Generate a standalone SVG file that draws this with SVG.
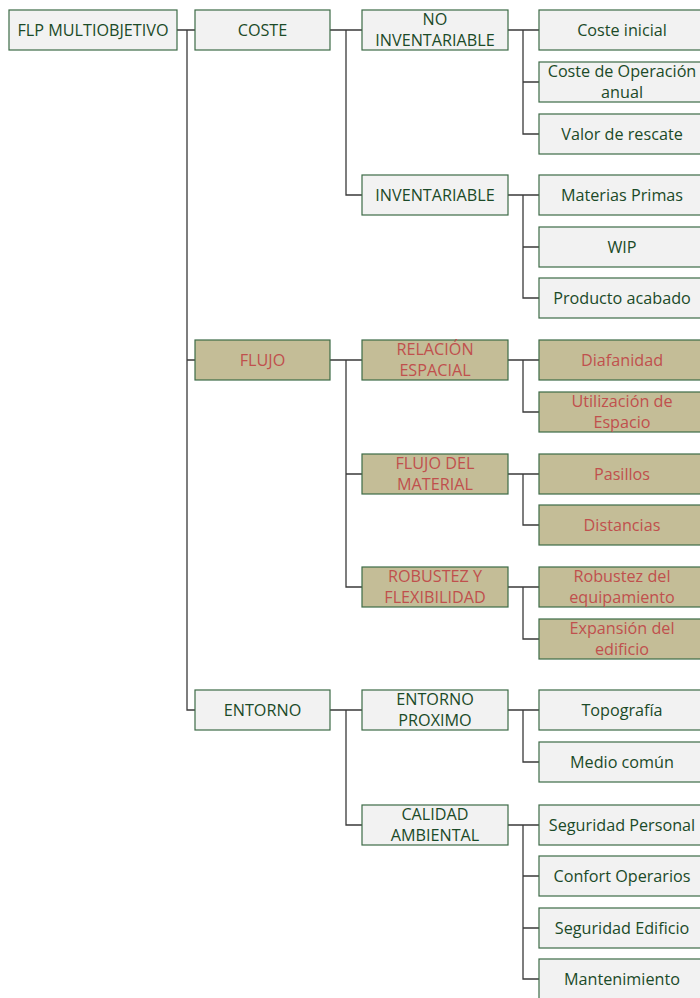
<svg xmlns="http://www.w3.org/2000/svg" width="700" height="998" viewBox="0 0 700 998">
  <style>
    .box rect { fill: #F2F2F2; stroke: #3D6B47; stroke-width: 1.2; }
    .box text { fill: #1B4A28; font-family: "Open Sans", "Noto Sans", "Liberation Sans", sans-serif; font-size: 16.2px; text-anchor: middle; }
    .alt rect { fill: #C4BD97; stroke: #3D6B47; stroke-width: 1.2; }
    .alt text { fill: #C0504D; }
    .links path { fill: none; stroke: #3A3A3A; stroke-width: 1.3; }
  </style>
  <rect width="700" height="998" fill="#FFFFFF"/>

  <!-- connectors -->
  <g class="links">
    <!-- root to level 1 -->
    <path d="M177 30 H195 M187 30 V710 H195 M187 360 H195"/>
    <!-- COSTE -->
    <path d="M330 30 H362 M346 30 V195 H362"/>
    <path d="M508 30 H539 M523 30 V134 H539 M523 82 H539"/>
    <path d="M508 195 H539 M523 195 V298 H539 M523 247 H539"/>
    <!-- FLUJO -->
    <path d="M330 360 H362 M346 360 V587 H362 M346 474 H362"/>
    <path d="M508 360 H539 M523 360 V412 H539"/>
    <path d="M508 474 H539 M523 474 V525 H539"/>
    <path d="M508 587 H539 M523 587 V639 H539"/>
    <!-- ENTORNO -->
    <path d="M330 710 H362 M346 710 V825 H362"/>
    <path d="M508 710 H539 M523 710 V762 H539"/>
    <path d="M508 825 H539 M523 825 V979 H539 M523 876 H539 M523 928 H539"/>
  </g>

  <!-- root -->
  <g id="flp" class="box"><rect x="9" y="10" width="168" height="40"/><text x="93" y="35.5">FLP MULTIOBJETIVO</text></g>

  <!-- level 1 -->
  <g id="coste" class="box"><rect x="195" y="10" width="135" height="40"/><text x="262.5" y="35.5">COSTE</text></g>
  <g id="flujo" class="box alt"><rect x="195" y="340" width="135" height="40"/><text x="262.5" y="365.5">FLUJO</text></g>
  <g id="entorno" class="box"><rect x="195" y="690" width="135" height="40"/><text x="262.5" y="715.5">ENTORNO</text></g>

  <!-- level 2 -->
  <g id="no-inventariable" class="box"><rect x="362" y="10" width="146" height="40"/><text x="435" y="25">NO</text><text x="435" y="46">INVENTARIABLE</text></g>
  <g id="inventariable" class="box"><rect x="362" y="175" width="146" height="40"/><text x="435" y="200.5">INVENTARIABLE</text></g>
  <g id="relacion-espacial" class="box alt"><rect x="362" y="340" width="146" height="40"/><text x="435" y="355">RELACIÓN</text><text x="435" y="376">ESPACIAL</text></g>
  <g id="flujo-material" class="box alt"><rect x="362" y="454" width="146" height="40"/><text x="435" y="469">FLUJO DEL</text><text x="435" y="490">MATERIAL</text></g>
  <g id="robustez-flexibilidad" class="box alt"><rect x="362" y="567" width="146" height="40"/><text x="435" y="582">ROBUSTEZ Y</text><text x="435" y="603">FLEXIBILIDAD</text></g>
  <g id="entorno-proximo" class="box"><rect x="362" y="690" width="146" height="40"/><text x="435" y="705">ENTORNO</text><text x="435" y="726">PROXIMO</text></g>
  <g id="calidad-ambiental" class="box"><rect x="362" y="805" width="146" height="40"/><text x="435" y="820">CALIDAD</text><text x="435" y="841">AMBIENTAL</text></g>

  <!-- level 3 -->
  <g id="coste-inicial" class="box"><rect x="539" y="10" width="170" height="40"/><text x="622" y="35.5">Coste inicial</text></g>
  <g id="coste-operacion" class="box"><rect x="539" y="62" width="170" height="40"/><text x="622" y="77">Coste de Operación</text><text x="622" y="98">anual</text></g>
  <g id="valor-rescate" class="box"><rect x="539" y="114" width="170" height="40"/><text x="622" y="139.5">Valor de rescate</text></g>
  <g id="materias-primas" class="box"><rect x="539" y="175" width="170" height="40"/><text x="622" y="200.5">Materias Primas</text></g>
  <g id="wip" class="box"><rect x="539" y="227" width="170" height="40"/><text x="622" y="252.5">WIP</text></g>
  <g id="producto-acabado" class="box"><rect x="539" y="278" width="170" height="40"/><text x="622" y="303.5">Producto acabado</text></g>
  <g id="diafanidad" class="box alt"><rect x="539" y="340" width="170" height="40"/><text x="622" y="365.5">Diafanidad</text></g>
  <g id="utilizacion-espacio" class="box alt"><rect x="539" y="392" width="170" height="40"/><text x="622" y="407">Utilización de</text><text x="622" y="428">Espacio</text></g>
  <g id="pasillos" class="box alt"><rect x="539" y="454" width="170" height="40"/><text x="622" y="479.5">Pasillos</text></g>
  <g id="distancias" class="box alt"><rect x="539" y="505" width="170" height="40"/><text x="622" y="530.5">Distancias</text></g>
  <g id="robustez-equipamiento" class="box alt"><rect x="539" y="567" width="170" height="40"/><text x="622" y="582">Robustez del</text><text x="622" y="603">equipamiento</text></g>
  <g id="expansion-edificio" class="box alt"><rect x="539" y="619" width="170" height="40"/><text x="622" y="634">Expansión del</text><text x="622" y="655">edificio</text></g>
  <g id="topografia" class="box"><rect x="539" y="690" width="170" height="40"/><text x="622" y="715.5">Topografía</text></g>
  <g id="medio-comun" class="box"><rect x="539" y="742" width="170" height="40"/><text x="622" y="767.5">Medio común</text></g>
  <g id="seguridad-personal" class="box"><rect x="539" y="805" width="170" height="40"/><text x="622" y="830.5">Seguridad Personal</text></g>
  <g id="confort-operarios" class="box"><rect x="539" y="856" width="170" height="40"/><text x="622" y="881.5">Confort Operarios</text></g>
  <g id="seguridad-edificio" class="box"><rect x="539" y="908" width="170" height="40"/><text x="622" y="933.5">Seguridad Edificio</text></g>
  <g id="mantenimiento" class="box"><rect x="539" y="959" width="170" height="40"/><text x="622" y="984.5">Mantenimiento</text></g>
</svg>
